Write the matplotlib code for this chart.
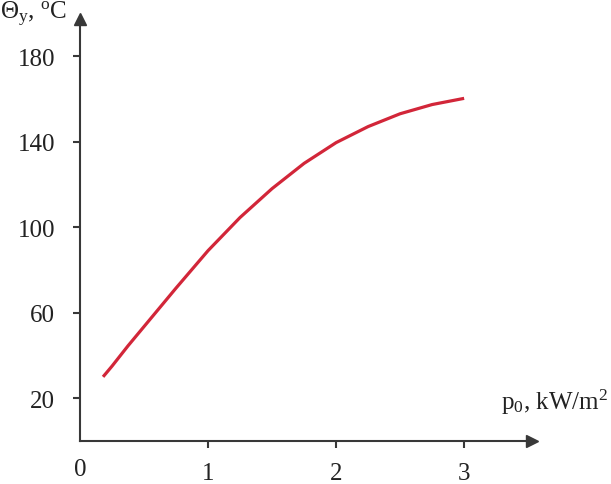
import matplotlib
matplotlib.use('Agg')
from matplotlib import pyplot as plt

plt.rcParams['font.family'] = ['Liberation Serif', 'DejaVu Serif']
plt.rcParams['mathtext.fontset'] = 'custom'
plt.rcParams['mathtext.rm'] = 'Liberation Serif'
plt.rcParams['mathtext.it'] = 'Liberation Serif:italic'

# values
p0 = [0.18, 0.25, 0.375, 0.5, 0.75, 1.0, 1.25, 1.5, 1.75, 2.0, 2.25, 2.5, 2.75, 3.0]
theta = [30, 35, 44.5, 53.5, 71.5, 89, 104.5, 118, 129.8, 139.5, 147, 153, 157.3, 160.2]
xticks = [1, 2, 3]
yticks = [20, 60, 100, 140, 180]

axcol = '#383838'
txtcol = '#222222'
W, H = 611, 485

fig = plt.figure(figsize=(W / 100, H / 100), dpi=100)
ax = fig.add_axes([80 / W, 43 / H, 452 / W, 422 / H])

ax.plot(p0, theta, color='#d22639', lw=2.3, solid_capstyle='butt', solid_joinstyle='round')

ax.set_xlim(0, 3.53)
ax.set_ylim(0, 197.3)
for s in ['top', 'right']:
    ax.spines[s].set_visible(False)
for s in ['left', 'bottom']:
    ax.spines[s].set_color(axcol)
    ax.spines[s].set_linewidth(1.5)

ax.set_xticks(xticks)
ax.set_yticks(yticks)
ax.tick_params(axis='both', colors=axcol, length=5, width=1.5, labelsize=18,
               labelcolor=txtcol)
ax.tick_params(axis='x', pad=10)
ax.tick_params(axis='y', pad=13)

# arrow heads on the axes
ax.plot(1, 0, '>', color=axcol, ms=9, transform=ax.get_yaxis_transform(), clip_on=False)
ax.plot(0, 1, '^', color=axcol, ms=9, transform=ax.get_xaxis_transform(), clip_on=False)

# origin label
ax.text(0, -0.04, '0', transform=ax.get_xaxis_transform(), ha='center', va='top',
        fontsize=18, color=txtcol)

fig.text(0 / W, 1 - 19 / H, r'$\Theta_{\mathrm{y}}$, $^{\mathrm{o}}$C', fontsize=18,
         color=txtcol, ha='left', va='baseline')
fig.text(501 / W, 1 - 410 / H, r'p$_{\mathrm{0}}$, kW/m$^{\mathrm{2}}$', fontsize=18,
         color=txtcol, ha='left', va='baseline')

fig.savefig('out.png', dpi=100)
